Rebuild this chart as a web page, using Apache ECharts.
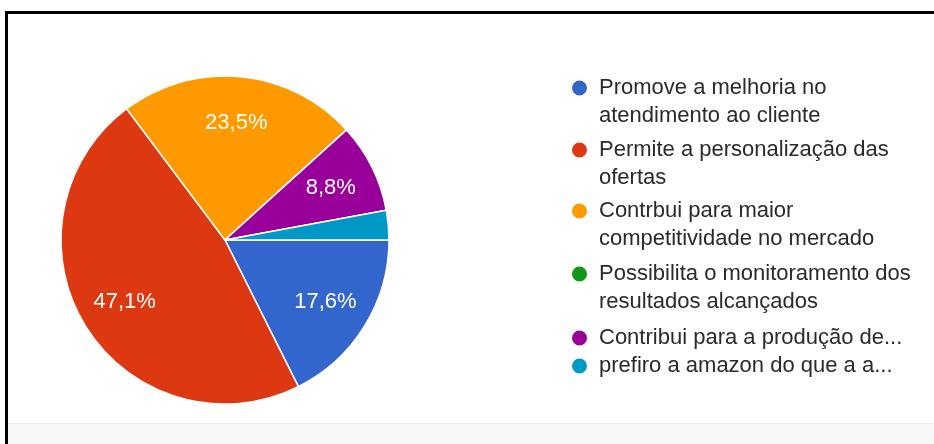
<!DOCTYPE html>
<html>
<head>
<meta charset="utf-8">
<script src="https://cdn.jsdelivr.net/npm/echarts@6/dist/echarts.min.js"></script>
<style>
  html, body { margin: 0; padding: 0; background: #fff; }
  #wrap { position: relative; width: 934px; height: 444px; overflow: hidden; }
  .frame { position: absolute; left: 5px; top: 11px; right: 0; bottom: 0;
           border-top: 3px solid #000; border-left: 3px solid #000; }
  .footer { position: absolute; left: 8px; right: 0; top: 423px; bottom: 0;
            background: #f8f8f8; border-top: 1px solid #eeeeee; }
  #chart { position: absolute; left: 0; top: 0; width: 934px; height: 444px; }
</style>
</head>
<body>
<div id="wrap">
  <div class="frame"></div>
  <div class="footer"></div>
  <div id="chart"></div>
</div>
<script>
// Answer options (legend text, wrapped as shown)
const categories = [
  'Promove a melhoria no\natendimento ao cliente',
  'Permite a personalização das\nofertas',
  'Contrbui para maior\ncompetitividade no mercado',
  'Possibilita o monitoramento dos\nresultados alcançados',
  'Contribui para a produção de...',
  'prefiro a amazon do que a a...'
];
// Share of responses, in percent
const shares = [17.6, 47.1, 23.5, 0, 8.8, 2.9];
const colors = ['#3366cc', '#dc3912', '#ff9900', '#109618', '#990099', '#0099c6'];
// Vertical centre of each legend marker (first text line)
const legendRows = [88, 150, 211, 274, 338, 366];

const FONT = '"Liberation Sans", Arial, sans-serif';
const LINE = 28;

const data = categories.map((name, i) => ({
  name: name,
  value: shares[i],
  itemStyle: { color: colors[i] }
}));

// One legend block per answer so the marker sits beside the first line.
// Wrapped entries get an empty leading line, which centres the marker on line one.
const legends = categories.map((name, i) => {
  const lines = name.split('\n').length;
  const half = lines > 1 ? LINE * 1.5 : LINE / 2;
  return {
    orient: 'vertical',
    left: 570,
    top: legendRows[i] - half,
    padding: 0,
    icon: 'circle',
    itemWidth: 17,
    itemHeight: 17,
    data: [name],
    formatter: n => (lines > 1 ? '\n' : '') + n,
    textStyle: {
      fontFamily: FONT,
      fontSize: 22,
      color: '#2a2a2a',
      lineHeight: LINE,
      padding: [0, 0, 0, 6]
    }
  };
});

const chart = echarts.init(document.getElementById('chart'), null, { renderer: 'canvas' });
chart.setOption({
  backgroundColor: 'transparent',
  animation: false,
  legend: legends,
  series: [
    {
      name: 'slices',
      type: 'pie',
      center: [225, 240],
      radius: [0, 164],
      startAngle: 0,
      clockwise: true,
      data: data,
      label: { show: false },
      labelLine: { show: false },
      itemStyle: { borderColor: '#ffffff', borderWidth: 1.5 },
      emphasis: { scale: false }
    },
    {
      name: 'labels',
      type: 'pie',
      center: [225, 240],
      radius: [98, 132],
      startAngle: 0,
      clockwise: true,
      silent: true,
      data: data.map(d => ({ name: d.name, value: d.value })),
      itemStyle: { color: 'rgba(0,0,0,0)', borderWidth: 0 },
      labelLine: { show: false },
      label: {
        show: true,
        position: 'inside',
        fontFamily: FONT,
        fontSize: 22,
        color: '#ffffff',
        formatter: p => p.value < 5 ? '' : p.value.toFixed(1).replace('.', ',') + '%'
      },
      emphasis: { disabled: true }
    }
  ]
});
</script>
</body>
</html>
